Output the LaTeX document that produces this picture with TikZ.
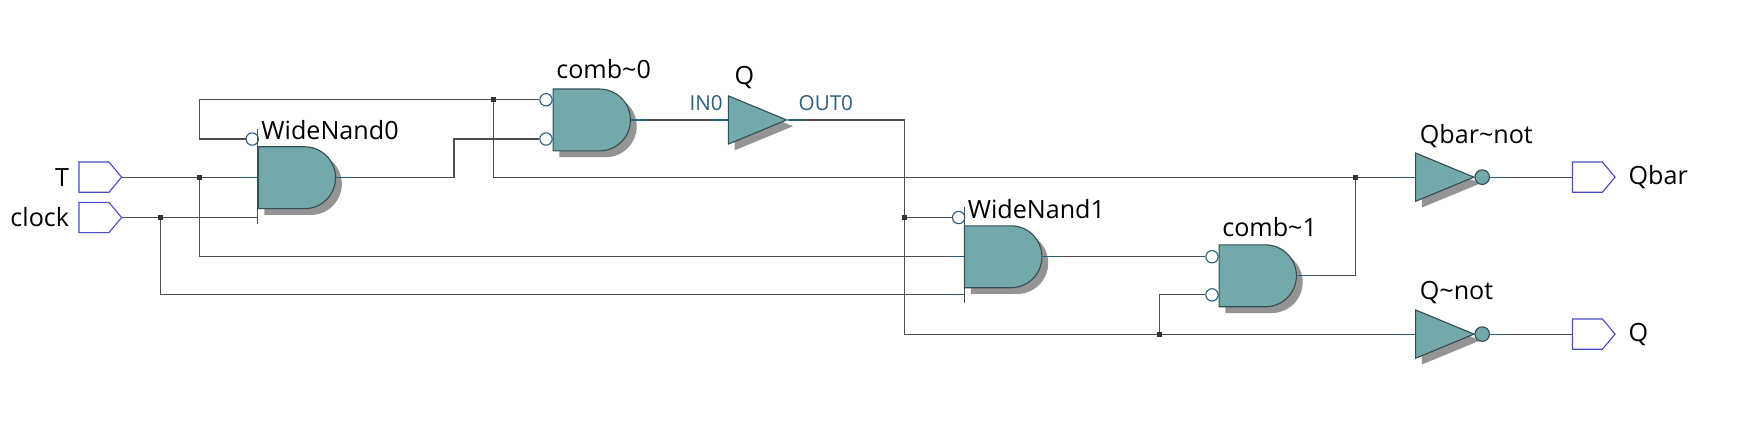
\documentclass[tikz,border=0pt]{standalone}
\usepackage{fontspec}
\setmainfont{Open Sans}
\usetikzlibrary{positioning,calc,shadows,shapes.geometric,shapes.symbols,shapes.gates.logic.US}

\definecolor{gatefill}{HTML}{73A9AB}
\definecolor{gateline}{HTML}{2F4F55}
\definecolor{wirecol}{HTML}{4A4F50}
\definecolor{portcol}{HTML}{4A4AC8}
\definecolor{pincol}{HTML}{2B5F7F}

\tikzset{
  gateshadow/.style={drop shadow={shadow xshift=2.8pt,shadow yshift=-2.8pt,fill=black!42,opacity=1}},
  andbody/.style={shape=and gate US,logic gate inputs=nn,draw=gateline,fill=gatefill,line width=.5pt,
    minimum width=34.5pt,minimum height=25.5pt,inner sep=0pt,gateshadow},
  tribody/.style={shape=isosceles triangle,isosceles triangle stretches,shape border rotate=0,draw=gateline,fill=gatefill,
    line width=.5pt,minimum width=21.5pt,minimum height=26pt,inner sep=0pt,gateshadow},
  invdot/.style={circle,draw=gateline,fill=gatefill,line width=.5pt,minimum size=6.5pt,inner sep=0pt},
  pindot/.style={circle,draw=pincol,fill=white,line width=.5pt,minimum size=5.5pt,inner sep=0pt},
  port/.style={shape=signal,signal to=east,signal pointer angle=100,draw=portcol,line width=.5pt,
    minimum width=19pt,minimum height=13.5pt,inner sep=0pt,anchor=west},
  joint/.style={fill=black!80,rectangle,minimum size=2.2pt,inner sep=0pt},
  wire/.style={draw=wirecol,line width=.55pt},
  stub/.style={draw=pincol,line width=.55pt},
  lab/.style={inner sep=0pt,font=\fontsize{11.2}{13}\selectfont,text=black},
  pinlab/.style={inner sep=0pt,font=\fontsize{9.2}{11}\selectfont,text=pincol}
}

\begin{document}
\begin{tikzpicture}[x=.5pt,y=-.5pt]
    \useasboundingbox (0,0) rectangle (1568,381);

    % ports on the left
    \node[port] (portT) at (70,158) {};
    \node[port] (portclk) at (70,194) {};
    \node[lab,left=4pt of portT] (labT) {T};
    \node[lab,left=4pt of portclk] (labclk) {clock};

    % the gates
    \node[andbody] (nand0) at (262.5,158.5) {};
    \node[andbody] (comb0) at (525.5,107) {};
    \node[tribody] (qbuf) at (664,107) {};
    \node[andbody] (nand1) at (892.5,229) {};
    \node[andbody] (comb1) at (1119.5,246) {};
    \node[tribody] (qbnot) at (1277,158) {};
    \node[tribody] (qnot) at (1277,298) {};

    % the bubbles
    \node[pindot] (b0) at (225,124) {};
    \node[pindot] (c0a) at (487,89) {};
    \node[pindot] (c0b) at (487,124) {};
    \node[pindot] (b1) at (855,194) {};
    \node[pindot] (c1a) at (1081,229) {};
    \node[pindot] (c1b) at (1081,263) {};
    \node[invdot] (qbdot) at (1322,158) {};
    \node[invdot] (qdot) at (1322,298) {};

    % ports on the right
    \node[port] (portQb) at (1402,158) {};
    \node[port] (portQ) at (1402,298) {};
    \node[lab,right=5.5pt of portQb] (labQb) {Qbar};
    \node[lab,right=5.5pt of portQ] (labQ) {Q};

    % the names
    \node[lab,above right=2.5pt and 1.5pt of nand0.north west] (lnand0) {WideNand0};
    \node[lab,above right=4pt and 1.5pt of comb0.north west] (lcomb0) {comb\textasciitilde0};
    \node[lab,above=5.5pt of qbuf.north] (lqbuf) {Q};
    \node[lab,above right=2.5pt and 1.5pt of nand1.north west] (lnand1) {WideNand1};
    \node[lab,above right=3pt and 1.5pt of comb1.north west] (lcomb1) {comb\textasciitilde1};
    \node[lab,anchor=west] (lqbnot) at (1266,121) {Qbar\textasciitilde not};
    \node[lab,anchor=west] (lqnot) at (1266,261) {Q\textasciitilde not};
    \node[pinlab,anchor=east] (lin) at (645,92) {IN0};
    \node[pinlab,anchor=west] (lout) at (712,92) {OUT0};

    % the corners
    \coordinate (t0) at (178,158);
    \coordinate (k0) at (143,194);
    \coordinate (top) at (440,89);
    \coordinate (qb0) at (1209,158);
    \coordinate (q1) at (807,194);
    \coordinate (q2) at (1034,298);
    \coordinate (bar0a) at (230,115);
    \coordinate (bar0b) at (230,200);
    \coordinate (bar1a) at (860,185);
    \coordinate (bar1b) at (860,270);

    % the wires
    \draw[wire] (portT.east) -- (nand0.west |- portT.east);
    \draw[wire] (portclk.east) -- (bar0b |- portclk.east);
    \draw[wire] (bar0a) -- (bar0b);
    \draw[wire] (bar1a) -- (bar1b);
    \draw[wire] (b0.west) -- (b0.west -| t0) |- (c0a.west);
    \draw[wire] (top) |- (qbnot.west |- qb0);
    \draw[wire] (nand0.east |- t0) -- (405,158) |- (c0b.west);
    \draw[wire] (comb0.east) -- (qbuf.west);
    \draw[wire] (qbuf.east) -- (807,107) |- (qnot.west);
    \draw[wire] (q1) -- (b1.west);
    \draw[wire] (t0) |- (bar1a |- nand1.east);
    \draw[wire] (k0) |- (bar1b |- 0,263);
    \draw[wire] (nand1.east) -- (c1a.west);
    \draw[wire] (q2) |- (c1b.west);
    \draw[wire] (comb1.east) -| (qb0);
    \draw[wire] (qbdot.east) -- (portQb.west);
    \draw[wire] (qdot.east) -- (portQ.west);

    % short pins beside the gates
    \foreach \g in {nand0,comb0,qbuf,nand1,comb1,qbdot,qdot}
      \draw[stub] (\g.east) -- ++(15,0);
    \foreach \g in {qbuf,qbnot,qnot}
      \draw[stub] (\g.west) -- ++(-15,0);
    \draw[stub] (bar0a |- t0) -- ++(-15,0);
    \draw[stub] (bar1a |- nand1.east) -- ++(-15,0);
    \draw[stub] (bar1b |- c1b) -- ++(-15,0);

    % the joints
    \node[joint] (jt) at (t0) {};
    \node[joint] (jk) at (k0) {};
    \node[joint] (jtop) at (top) {};
    \node[joint] (jqb) at (qb0) {};
    \node[joint] (jq1) at (q1) {};
    \node[joint] (jq2) at (q2) {};
\end{tikzpicture}
\end{document}
